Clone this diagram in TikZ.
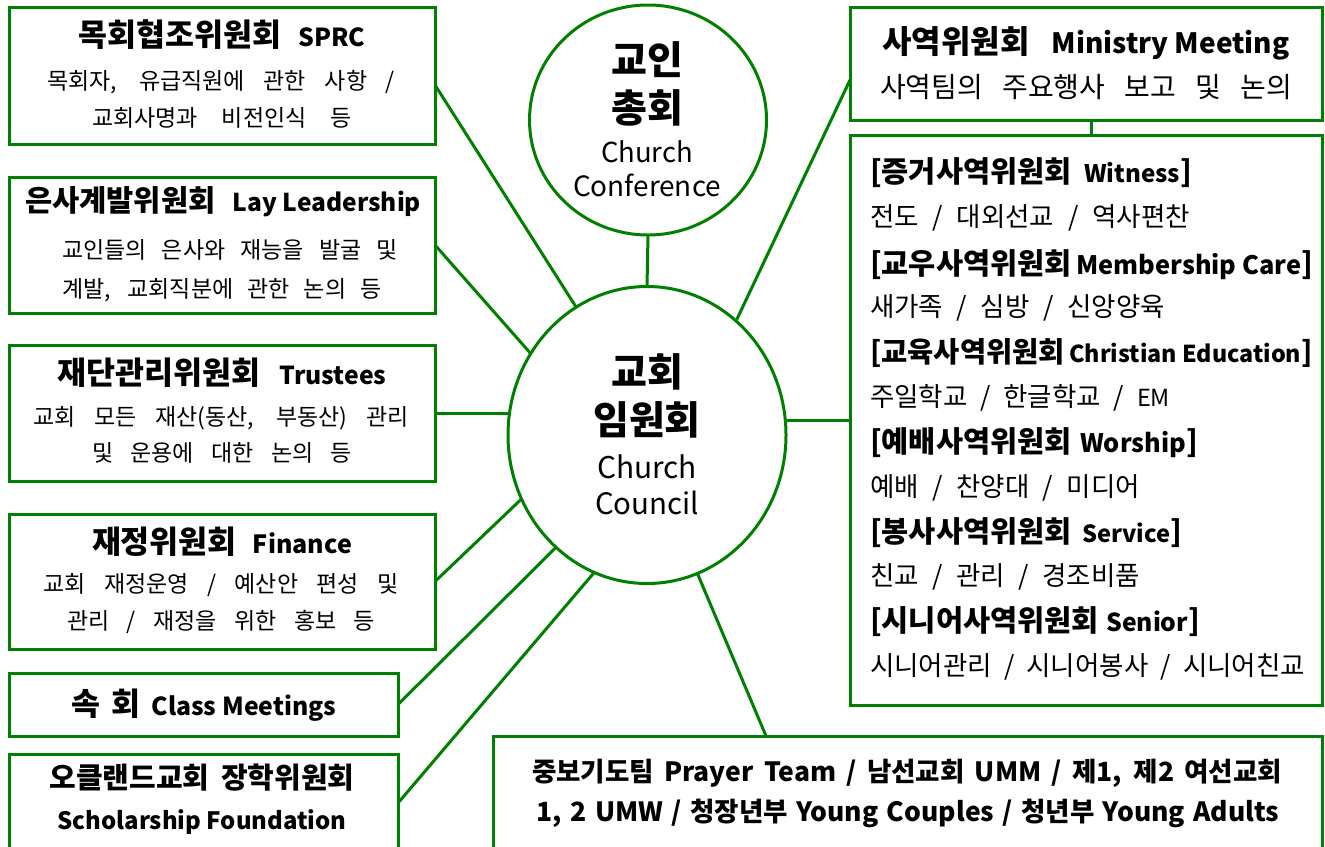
\documentclass[tikz,border=0pt]{standalone}
\usepackage{fontspec}
\usepackage{graphicx}
\setmainfont{Noto Sans CJK KR}
\usetikzlibrary{shapes.geometric,calc}
\definecolor{gr}{RGB}{0,128,0}
\newcommand{\lw}[2]{\resizebox{#1pt}{!}{#2}}
\newcommand{\fsz}[1]{\fontsize{#1}{#1}\selectfont}
\newcommand{\ttlf}{\fsz{31.5}\bfseries}
\newcommand{\bdyf}{\fsz{23}}
\newcommand{\rbf}{\fsz{29.5}\bfseries}
\newcommand{\rnf}{\fsz{26.5}}
\newcommand{\cbf}{\fsz{39}\bfseries}
\newcommand{\cnf}{\fsz{30}}
\newcommand{\btf}{\fsz{26.5}\bfseries}
\newcommand{\sline}[2]{\makebox[#1pt][s]{#2}}
\tikzset{
  frame/.style={draw=gr, line width=3pt, inner sep=0pt, outer sep=0pt, fill=white},
  ring/.style={ellipse, draw=gr, line width=3pt, inner sep=0pt, outer sep=0pt, fill=white},
  wire/.style={draw=gr, line width=3pt},
  lbl/.style={inner sep=0pt, outer sep=0pt, text=black},
  lblw/.style={lbl, anchor=west}
}
\begin{document}
\begin{tikzpicture}[x=1pt,y=-1pt]
\useasboundingbox (0,0) rectangle (1325,846);
\clip (0,0) rectangle (1325,846);
\fill[white] (0,0) rectangle (1325,846);

% circles
\node[ring, minimum width=237pt, minimum height=230pt] (conf) at (648,120) {};
\node[ring, minimum width=278pt, minimum height=297pt] (council) at (647,435) {};

% left boxes
\node[frame, minimum width=426pt, minimum height=137pt] (b1) at (222,75.5) {};
\node[frame, minimum width=426pt, minimum height=136pt] (b2) at (222,245) {};
\node[frame, minimum width=426pt, minimum height=136pt] (b3) at (222,413) {};
\node[frame, minimum width=426pt, minimum height=135pt] (b4) at (222,581.5) {};
\node[frame, minimum width=389pt, minimum height=63pt] (b5) at (203.5,704.5) {};
\node[frame, minimum width=389pt, minimum height=98pt] (b6) at (203.5,803) {};
% right boxes
\node[frame, minimum width=472pt, minimum height=113pt] (mm) at (1086,63.5) {};
\node[frame, minimum width=472pt, minimum height=570pt] (rb) at (1086,420) {};
\node[frame, minimum width=829pt, minimum height=116pt] (bb) at (907.5,794) {};

% connectors
\draw[wire] (conf.south) -- (council.north);
\draw[wire] ($(b1.east)+(0,9.5)$) -- (council.119);
\draw[wire] (b2.east) -- (council.145);
\draw[wire] (b3.east) -- (b3.east -| council.west);
\draw[wire] (b4.east) -- (council.207);
\draw[wire] (b5.east) -- (council.231);
\draw[wire] (b6.east) -- (council.249);
\draw[wire] ($(mm.west)+(0,16.5)$) -- (council.52);
\draw[wire] (rb.west) -- (rb.west -| council.east);
\draw[wire] ($(mm.south)+(5,0)$) -- ($(rb.north)+(5,0)$);
\draw[wire] (council.290) -- ($(bb.north west)+(273,0)$);

% circle texts
\node[lbl] (c1a) at (647,60) {\cbf 교인};
\node[lbl] (c1b) at (647,108) {\cbf 총회};
\node[lbl] (c1c) at (647,152) {\cnf\lw{92}{Church}};
\node[lbl] (c1d) at (647,185) {\cnf\lw{148}{Conference}};
\node[lbl] (c2a) at (647,372) {\cbf 교회};
\node[lbl] (c2b) at (647,420) {\cbf 임원회};
\node[lbl] (c2c) at (647,467) {\cnf\lw{100}{Church}};
\node[lbl] (c2d) at (647,503) {\cnf\lw{104}{Council}};

% box 1
\node[lbl] (t1a) at (222,35) {\ttlf\sline{287}{목회협조위원회 \lw{67}{SPRC}}};
\node[lbl] (t1b) at (221,82) {\bdyf\sline{348}{목회자, 유급직원에 관한 사항 /}};
\node[lbl] (t1c) at (222,118) {\bdyf\sline{260}{교회사명과 비전인식 등}};
% box 2
\node[lbl] (t2a) at (223,202) {\fsz{29.6}\bfseries\sline{396}{은사계발위원회 \lw{188}{Lay Leadership}}};
\node[lbl] (t2b) at (230,250) {\bdyf\sline{336}{교인들의 은사와 재능을 발굴 및}};
\node[lbl] (t2c) at (222,290) {\bdyf\sline{319}{계발, 교회직분에 관한 논의 등}};
% box 3
\node[lbl] (t3a) at (222,373) {\ttlf\sline{329}{재단관리위원회 \lw{107}{Trustees}}};
\node[lbl] (t3b) at (221,418) {\bdyf\sline{375}{교회 모든 재산(동산, 부동산) 관리}};
\node[lbl] (t3c) at (222,453) {\bdyf\sline{260}{및 운용에 대한 논의 등}};
% box 4
\node[lbl] (t4a) at (222,542) {\ttlf\sline{260}{재정위원회 \lw{99}{Finance}}};
\node[lbl] (t4b) at (221,585) {\bdyf\sline{355}{교회 재정운영 / 예산안 편성 및}};
\node[lbl] (t4c) at (221,622) {\bdyf\sline{308}{관리 / 재정을 위한 홍보 등}};
% box 5, 6
\node[lbl] (t5a) at (204,705) {\ttlf\sline{265}{속 회 \lw{185}{Class Meetings}}};
\node[lbl] (t6a) at (202,778) {\fsz{29}\bfseries\sline{305}{오클랜드교회 장학위원회}};
\node[lbl] (t6b) at (202,822) {\fsz{29}\bfseries\lw{289}{Scholarship Foundation}};

% ministry box
\node[lbl] (tma) at (1086,43) {\fsz{32}\bfseries\sline{407}{사역위원회 \lw{238}{Ministry Meeting}}};
\node[lbl] (tmb) at (1086,87) {\fsz{28}\sline{412}{사역팀의 주요행사 보고 및 논의}};

% right list
\node[lblw] (r1) at (870,173) {\rbf\sline{322}{[증거사역위원회 \lw{96}{Witness}]}};
\node[lblw] (r2) at (870,218) {\rnf\sline{320}{전도 / 대외선교 / 역사편찬}};
\node[lblw] (r3) at (870,265) {\rbf\sline{438}{[교우사역위원회 \lw{225}{Membership Care}]}};
\node[lblw] (r4) at (870,308) {\rnf\sline{295}{새가족 / 심방 / 신앙양육}};
\node[lblw] (r5) at (870,353) {\fsz{28.5}\bfseries\sline{442}{[교육사역위원회 \lw{232}{Christian Education}]}};
\node[lblw] (r6) at (870,398) {\rnf\sline{300}{주일학교 / 한글학교 / \lw{33}{EM}}};
\node[lblw] (r7) at (870,443) {\rbf\sline{328}{[예배사역위원회 \lw{106}{Worship}]}};
\node[lblw] (r8) at (870,488) {\rnf\sline{270}{예배 / 찬양대 / 미디어}};
\node[lblw] (r9) at (870,533) {\rbf\sline{312}{[봉사사역위원회 \lw{88}{Service}]}};
\node[lblw] (r10) at (870,577) {\rnf\sline{270}{친교 / 관리 / 경조비품}};
\node[lblw] (r11) at (870,622) {\rbf\sline{330}{[시니어사역위원회 \lw{82}{Senior}]}};
\node[lblw] (r12) at (870,667) {\rnf\sline{435}{시니어관리 / 시니어봉사 / 시니어친교}};

% bottom box
\node[lbl] (tba) at (907,773) {\btf\sline{750}{중보기도팀 Prayer Team / 남선교회 UMM / 제1, 제2 여선교회}};
\node[lbl] (tbb) at (908,813) {\btf\sline{743}{1, 2 UMW / 청장년부 Young Couples / 청년부 Young Adults}};
\end{tikzpicture}
\end{document}
